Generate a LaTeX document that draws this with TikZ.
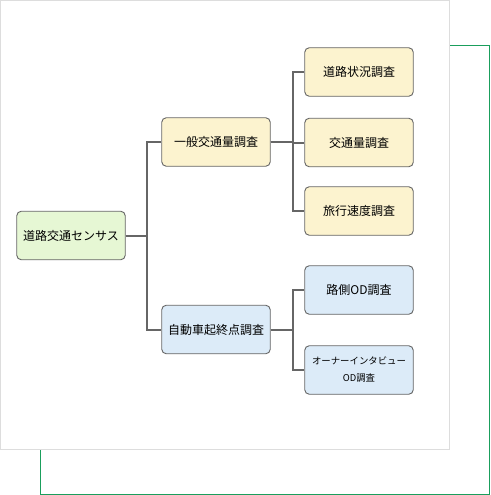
\documentclass[tikz,border=0pt]{standalone}
\usepackage{fontspec}
\setmainfont{Noto Sans CJK JP}
\usepackage{tikz}
\usetikzlibrary{positioning,calc}
\usepackage{xcolor}
\definecolor{framegreen}{RGB}{26,158,92}
\definecolor{panelgray}{RGB}{221,221,221}
\definecolor{linkgray}{RGB}{102,102,102}
\definecolor{rootfill}{RGB}{230,247,212}
\definecolor{genfill}{RGB}{252,243,207}
\definecolor{odfill}{RGB}{220,235,248}

\begin{document}
\begin{tikzpicture}[
    x=1pt,y=-1pt,
    box/.style={draw=linkgray,line width=0.9pt,rounded corners=4.5pt,minimum width=108.5pt,minimum height=48.5pt,align=center,inner sep=2pt,font=\fontsize{12}{14}\selectfont},
    link/.style={draw=linkgray,line width=2pt}
]
\useasboundingbox (0,0) rectangle (490,495);
\draw[framegreen,line width=1pt] (40.5,45.5) rectangle (489,494);
\draw[panelgray,fill=white,line width=1pt] (0.5,0.5) rectangle (449.5,449.5);

\node[box,fill=rootfill] (census) at (71,235.5) {道路交通センサス};
\node[box,fill=genfill] (general) at (216,142) {一般交通量調査};
\node[box,fill=odfill] (odsurvey) at (216,329.5) {自動車起終点調査};

\node[box,fill=genfill] (road) at (359,72) {道路状況調査};
\node[box,fill=genfill] (volume) at (359,142.5) {交通量調査};
\node[box,fill=genfill] (speed) at (359,211) {旅行速度調査};
\node[box,fill=odfill] (roadside) at (359,290) {路側OD調査};
\node[box,fill=odfill,font=\fontsize{9.4}{17}\selectfont] (owner) at (359,370) {オーナーインタビュー\\OD調査};

\draw[link] (census.east) -- ++(21.5,0) |- (general.west);
\draw[link] (census.east) -- ++(21.5,0) |- (odsurvey.west);
\foreach \child in {road,volume,speed}
  \draw[link] (general.east) -- ++(22,0) |- (\child.west);
\foreach \child in {roadside,owner}
  \draw[link] (odsurvey.east) -- ++(22,0) |- (\child.west);
\end{tikzpicture}
\end{document}
